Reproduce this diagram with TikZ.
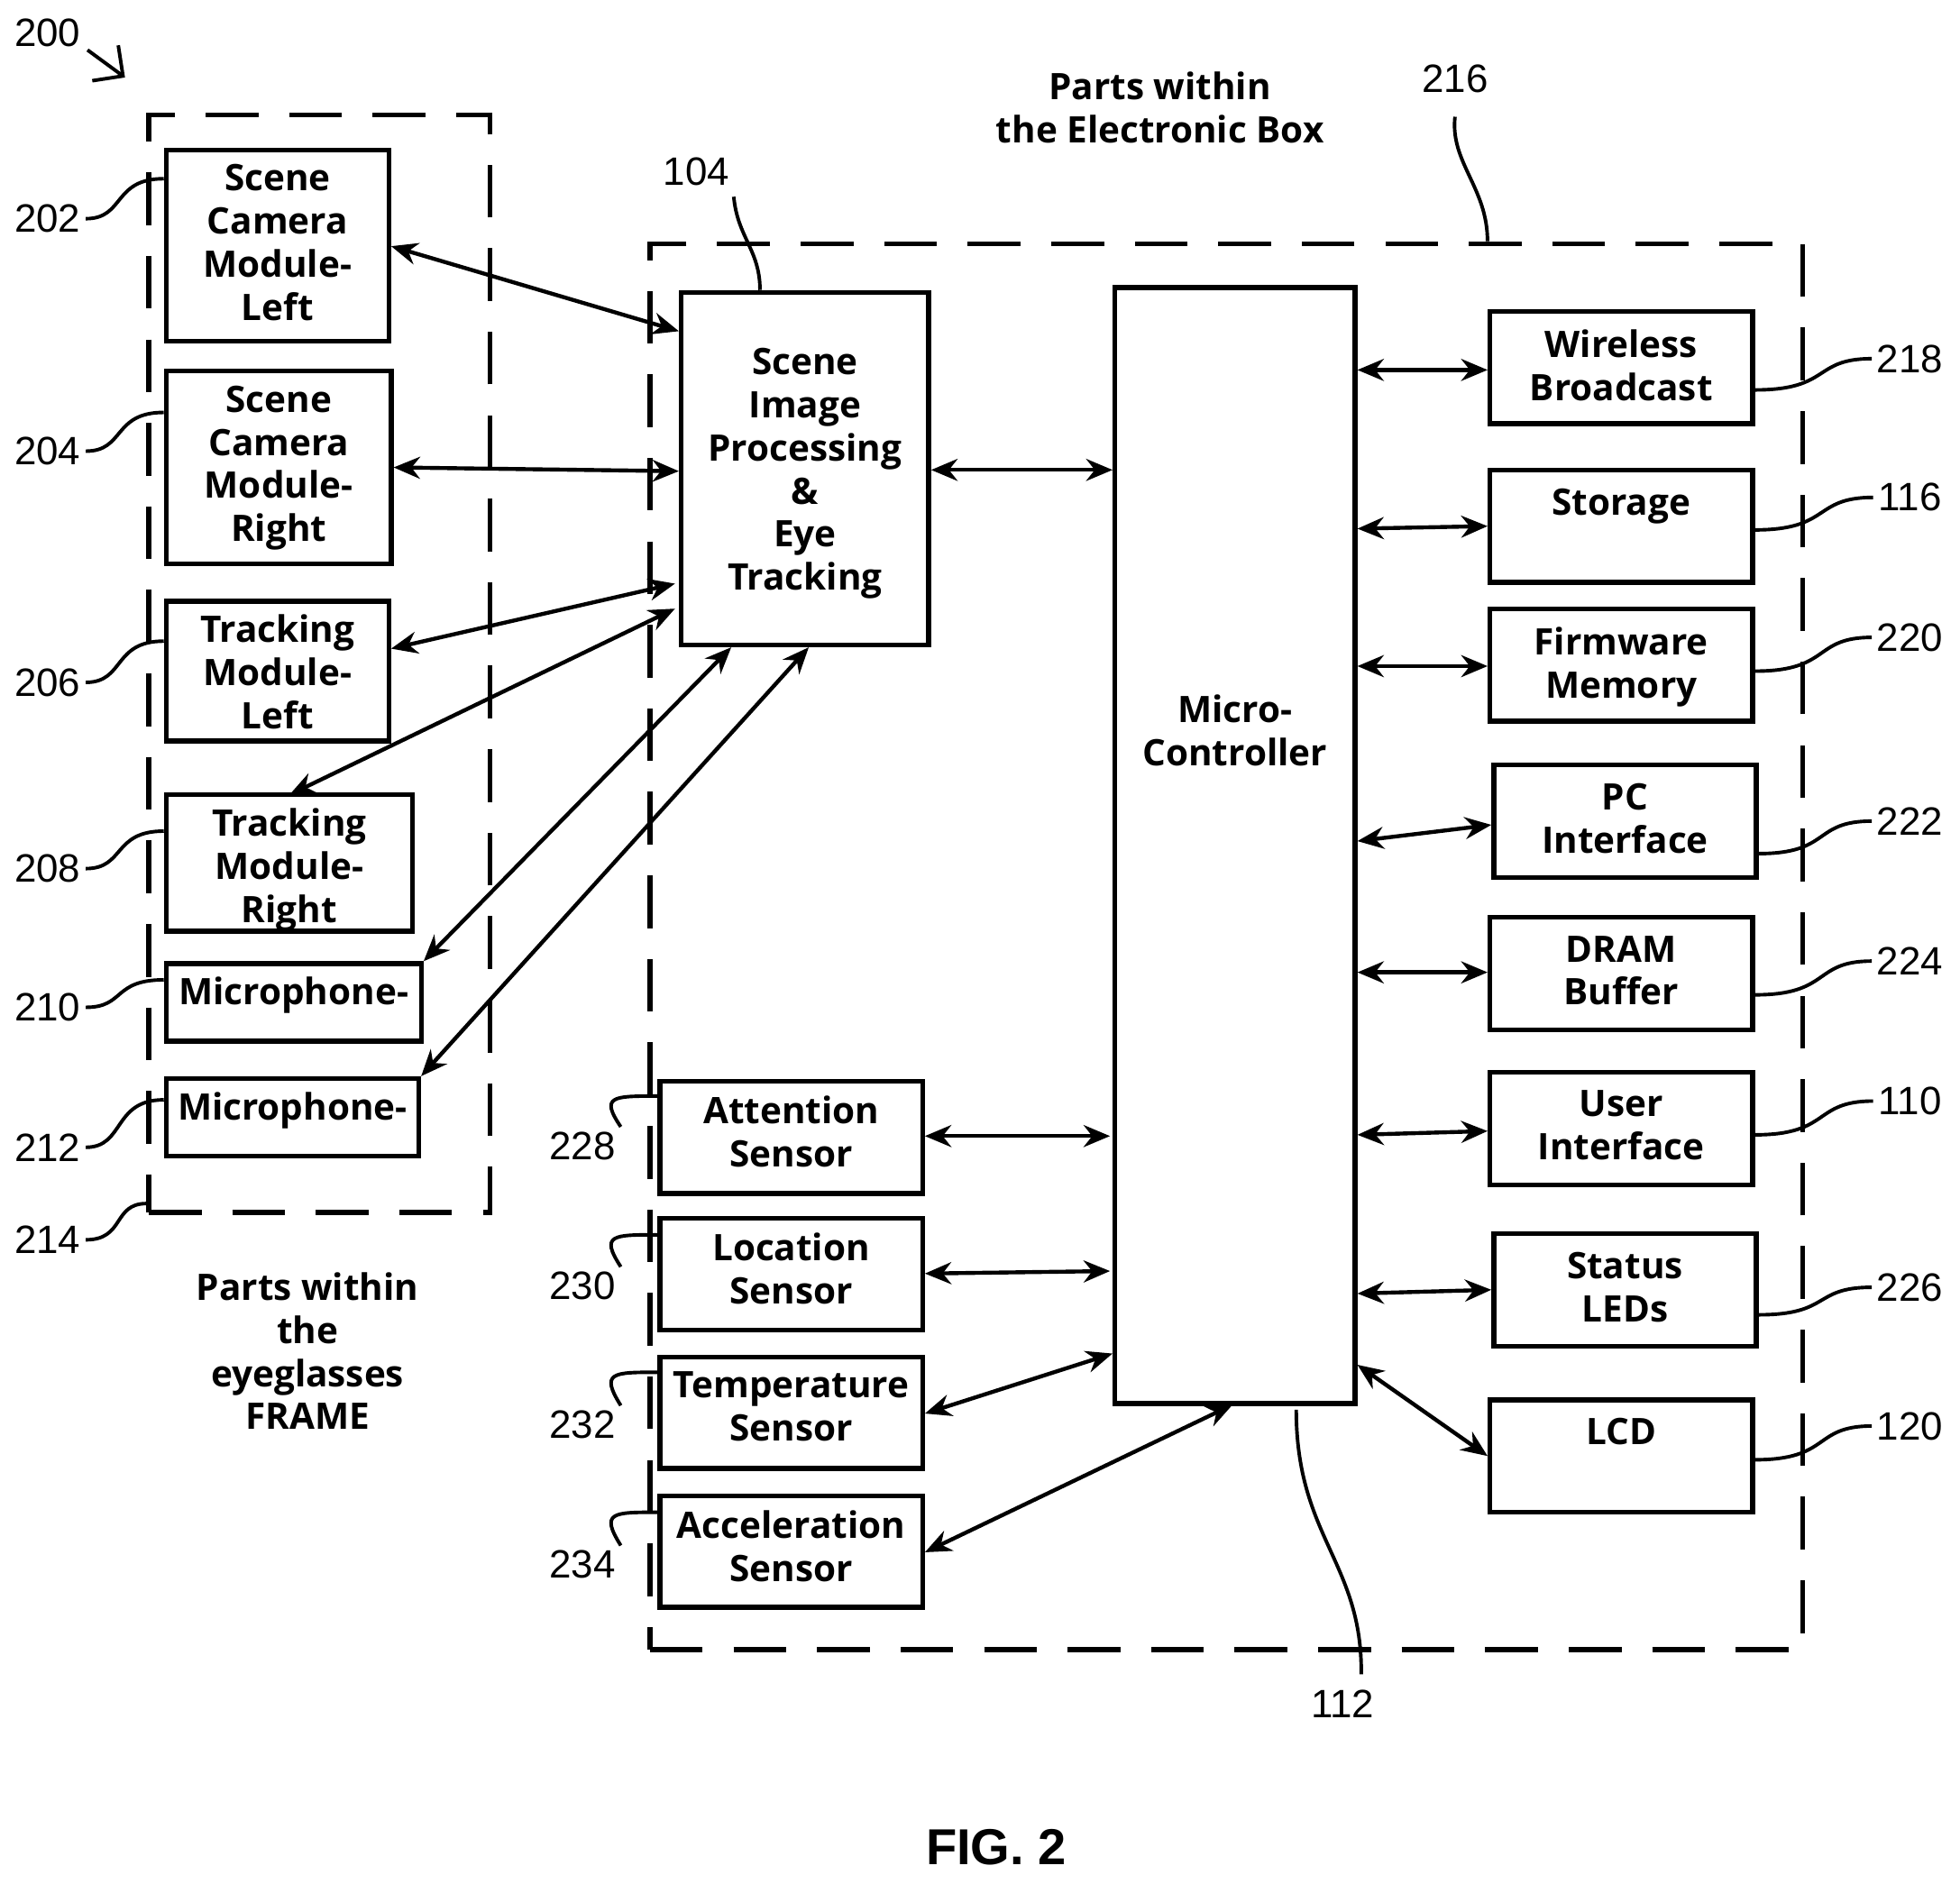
\documentclass[tikz,border=0pt]{standalone}
\usepackage{fontspec}
\setmainfont{Open Sans}
\newfontfamily\numfont{Liberation Sans}
\usetikzlibrary{fit,arrows.meta,positioning,calc}

\tikzset{
  blk/.style={draw, line width=1.1pt, inner sep=0pt},
  grp/.style={draw, line width=1.1pt, dash pattern=on 12pt off 7pt, inner sep=0pt},
  lbl/.style={font=\fontsize{8.3}{9.8}\selectfont\bfseries, align=center, anchor=north, inner sep=0pt},
  num/.style={font=\numfont\fontsize{9}{10}\selectfont, inner sep=1pt},
  link/.style={line width=0.9pt, {Stealth[length=6pt,width=5pt]}-{Stealth[length=6pt,width=5pt]}},
  lead/.style={line width=0.8pt},
}
\newcommand\blkbox[5]{% name, corner, corner, text offset, text
  \node[blk, fit={#2 #3}] (#1) {};
  \node[lbl, below=#4 of #1.north] (#1t) {#5};}

\begin{document}
\begin{tikzpicture}[x=0.01cm, y=-0.01cm]
\useasboundingbox (0,0) rectangle (1568,1507);

% groups
\node[grp, fit={(119,92) (392,970)}] (frame) {};
\node[grp, fit={(520,195) (1442,1320)}] (ebox) {};

% frame parts
\blkbox{scl}{(133,120)}{(311,273)}{0.13cm}{Scene\\Camera\\Module-\\Left}
\blkbox{scr}{(133,297)}{(313,451)}{0.13cm}{Scene\\Camera\\Module-\\Right}
\blkbox{trl}{(133,481)}{(311,593)}{0.12cm}{Tracking\\Module-\\Left}
\blkbox{trr}{(133,636)}{(330,745)}{0.12cm}{Tracking\\Module-\\Right}
\blkbox{mica}{(133,771)}{(337,833)}{0.12cm}{Microphone-}
\blkbox{micb}{(133,863)}{(335,925)}{0.12cm}{Microphone-}

% electronic box
\blkbox{sip}{(545,234)}{(743,516)}{0.46cm}{Scene\\Image\\Processing\\\&\\Eye\\Tracking}
\blkbox{mcu}{(892,230)}{(1084,1123)}{3.27cm}{Micro-\\Controller}
\blkbox{wire}{(1192,249)}{(1402,339)}{0.16cm}{Wireless\\Broadcast}
\blkbox{stor}{(1192,376)}{(1402,466)}{0.16cm}{Storage}
\blkbox{firm}{(1192,487)}{(1402,577)}{0.16cm}{Firmware\\Memory}
\blkbox{pcif}{(1195,612)}{(1405,702)}{0.16cm}{PC\\Interface}
\blkbox{dram}{(1192,734)}{(1402,824)}{0.16cm}{DRAM\\Buffer}
\blkbox{uif}{(1192,858)}{(1402,948)}{0.16cm}{User\\Interface}
\blkbox{leds}{(1195,987)}{(1405,1077)}{0.16cm}{Status\\LEDs}
\blkbox{lcd}{(1192,1120)}{(1402,1210)}{0.16cm}{LCD}
\blkbox{att}{(528,865)}{(738,955)}{0.13cm}{Attention\\Sensor}
\blkbox{loc}{(528,975)}{(738,1064)}{0.13cm}{Location\\Sensor}
\blkbox{temp}{(528,1086)}{(738,1175)}{0.13cm}{Temperature\\Sensor}
\blkbox{acc}{(528,1197)}{(738,1286)}{0.13cm}{Acceleration\\Sensor}

% links to image processing
\draw[link] (scl.east |- 0,197) -- (sip.west |- 0,265);
\draw[link] (scr.east |- 0,374) -- (sip.west |- 0,377);
\draw[link] (trl.east |- 0,519) -- (540,467);
\draw[link] (trr.north |- 0,636) -- (540,487);
\draw[link] (mica.north east) -- (sip.south west -| 585,0);
\draw[link] (micb.north east) -- (sip.south west -| 647,0);
\draw[link] (sip.east |- 0,376) -- (mcu.west |- 0,376);

% micro-controller links
\foreach \b/\ya/\yb in {wire/296/296, stor/423/421, firm/533/533, pcif/673/660,
                        dram/778/778, uif/908/905, leds/1035/1032}
  \draw[link] (mcu.east |- 0,\ya) -- (\b.west |- 0,\yb);
\draw[link] (mcu.east |- 0,1092) -- (lcd.west |- 0,1165);
\draw[link] (att.east |- 0,909) -- (888,909);
\draw[link] (loc.east |- 0,1019) -- (888,1017);
\draw[link] (temp.east |- 0,1131) -- (890,1083);
\draw[link] (acc.east |- 0,1242) -- (986,1124);

% reference numerals, left side
\node[num] (n200) at (38,26) {200};
\draw[lead, -{Straight Barb[length=5pt]}] (70,40) -- (100,62);
\foreach \n/\y/\b/\ty in {202/175/scl/143, 204/361/scr/330, 206/546/trl/513,
                          208/695/trr/665, 210/806/mica/784, 212/918/micb/880}{
  \node[num] (n\n) at (38,\y) {\n};
  \draw[lead] (n\n.east) .. controls (100,\y) and (90,\ty) .. (\b.west |- 0,\ty);
}
\node[num] (n214) at (38,992) {214};
\draw[lead] (n214.east) .. controls (100,992) and (90,963) .. (frame.west |- 0,963);
\foreach \n/\y/\b/\ty in {228/917/att/877, 230/1029/loc/988, 232/1140/temp/1098, 234/1252/acc/1210}{
  \node[num] (n\n) at (466,\y) {\n};
  \draw[lead] (n\n.north east) .. controls (480,\ty) and (490,\ty) .. (\b.west |- 0,\ty);
}

% reference numerals, right side
\foreach \n/\y/\b/\ty in {218/287/wire/312, 116/398/stor/424, 220/510/firm/537, 222/657/pcif/683,
                          224/769/dram/796, 110/881/uif/908, 226/1030/leds/1052, 120/1141/lcd/1168}{
  \node[num] (n\n) at (1528,\y) {\n};
  \draw[lead] (n\n.west) .. controls (1450,\y) and (1465,\ty) .. (\b.east |- 0,\ty);
}

% reference numerals, top and bottom
\node[num] (n104) at (557,137) {104};
\draw[lead] (n104.south) ++(30,5) .. controls (590,190) and (608,200) .. (sip.north -| 608,0);
\node[num] (n216) at (1164,63) {216};
\draw[lead] (n216.south) ++(0,15) .. controls (1160,130) and (1190,150) .. (ebox.north -| 1190,0);
\node[num] (n112) at (1074,1363) {112};
\draw[lead] (n112.north) ++(15,-8) .. controls (1090,1250) and (1037,1230) .. (1037,1128);

% titles
\node[lbl, anchor=center] (ttlbox) at (928,86) {Parts within\\the Electronic Box};
\node[lbl, anchor=center] (ttlfrm) at (246,1081) {Parts within\\the\\eyeglasses\\FRAME};
\node[font=\numfont\fontsize{11.5}{14}\selectfont\bfseries] (fig) at (797,1478) {FIG. 2};
\end{tikzpicture}
\end{document}
